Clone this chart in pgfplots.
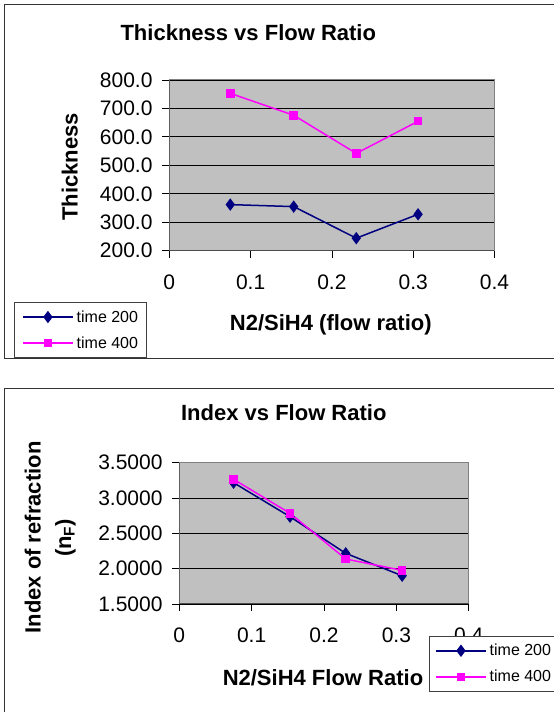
\documentclass[border=0pt]{standalone}
\usepackage{fontspec}
\setmainfont{Liberation Sans}
\usepackage{pgfplots}
\pgfplotsset{compat=1.18}
\definecolor{navyc}{RGB}{0,0,128}
\definecolor{magc}{RGB}{255,0,255}
\definecolor{plotbg}{RGB}{192,192,192}
\definecolor{frameg}{RGB}{128,128,128}
\pgfplotsset{
  excelstyle/.style={
    scale only axis,
    axis background/.style={fill=plotbg},
    axis line style={draw=frameg, line width=1pt},
    ymajorgrids, grid style={black, line width=0.8pt},
    tick pos=left, tick align=outside, major tick length=7pt,
    tick style={black, line width=0.8pt},
    scaled ticks=false,
    /pgf/number format/assume math mode=true,
    ticklabel style={font=\fontsize{21}{21}\selectfont, inner sep=0pt},
    xticklabel style={anchor=north, yshift=-17pt},
    yticklabel style={anchor=east, xshift=-9.6pt},
    xtick={0,0.1,0.2,0.3,0.4},
    xmin=0, xmax=0.4,
    xticklabel={\pgfmathprintnumber[fixed,precision=1]{\tick}},
    legend image code/.code={\draw[mark repeat=2, mark phase=2] plot coordinates {(0pt,0pt) (25pt,0pt) (50pt,0pt)};},
    legend cell align=left,
    legend style={draw=black!75, fill=white, anchor=north west,
      font=\fontsize{16}{16}\selectfont, inner ysep=8pt, row sep=13pt,
      nodes={inner sep=0pt},
      /tikz/every odd column/.style={column sep=3pt}},
  },
  s200/.style={color=navyc, line width=1.5pt, mark=diamond*, mark size=5pt, mark options={solid, fill=navyc}},
  s400/.style={color=magc, line width=1.5pt, mark=square*, mark size=3.5pt, mark options={solid, fill=magc}},
}
\begin{document}
\begin{tikzpicture}
\useasboundingbox (0pt,0pt) rectangle (554pt,712pt);
\fill[white] (0pt,0pt) rectangle (554pt,712pt);
% chart frames
\draw[black!80, line width=1.3pt] (600pt,353.7pt) -- (4.7pt,353.7pt) -- (4.7pt,707.3pt) -- (600pt,707.3pt);
\draw[black!80, line width=1.3pt] (600pt,323.7pt) -- (4.7pt,323.7pt) -- (4.7pt,-20pt);

% ---------- top chart ----------
\begin{axis}[excelstyle,
  at={(169.3pt,461.3pt)}, anchor=south west,
  width=325.2pt, height=170.7pt,
  ymin=200, ymax=800, ytick={200,300,400,500,600,700,800},
  yticklabel={\pgfmathprintnumber[fixed,fixed zerofill,precision=1]{\tick}},
  legend style={at={(-0.4776,-0.3023)}, inner xsep=8pt},
]
\addplot[s200] coordinates {(0.075,362) (0.153,355) (0.230,244) (0.306,328)};
\addlegendentry{time 200}
\addplot[s400] coordinates {(0.075,753) (0.153,676) (0.230,542) (0.306,655)};
\addlegendentry{time 400}
\draw[black!70, line width=1pt] (rel axis cs:0,1) -- (rel axis cs:0,0) -- (rel axis cs:1,0);
\end{axis}
\node[anchor=base, font=\bfseries\fontsize{22}{22}\selectfont] at (248.3pt,671.3pt) {Thickness vs Flow Ratio};
\node[anchor=base, font=\bfseries\fontsize{22}{22}\selectfont] at (330.8pt,381pt) {N2/SiH4 (flow ratio)};
\node[anchor=base, rotate=90, font=\bfseries\fontsize{22}{22}\selectfont] at (77.7pt,545.3pt) {Thickness};

% ---------- bottom chart ----------
\begin{axis}[excelstyle,
  at={(179.3pt,108pt)}, anchor=south west,
  width=289.4pt, height=141.3pt,
  ymin=1.5, ymax=3.5, ytick={1.5,2,2.5,3,3.5},
  yticklabel={\pgfmathprintnumber[fixed,fixed zerofill,precision=4]{\tick}},
  legend style={at={(0.8628,-0.2265)}, inner xsep=6pt},
]
\addplot[s200] coordinates {(0.075,3.217) (0.153,2.736) (0.230,2.217) (0.308,1.900)};
\addlegendentry{time 200}
\addplot[s400] coordinates {(0.075,3.265) (0.153,2.784) (0.230,2.137) (0.308,1.976)};
\addlegendentry{time 400}
\draw[black!70, line width=1pt] (rel axis cs:0,1) -- (rel axis cs:0,0) -- (rel axis cs:1,0);
\end{axis}
\node[anchor=base, font=\bfseries\fontsize{22}{22}\selectfont] at (283.8pt,291.3pt) {Index vs Flow Ratio};
\node[anchor=base, font=\bfseries\fontsize{22}{22}\selectfont] at (323pt,27pt) {N2/SiH4 Flow Ratio};
\node[anchor=base, rotate=90, font=\bfseries\fontsize{22}{22}\selectfont] at (40.6pt,174.5pt) {Index of refraction};
\node[anchor=center, rotate=90, font=\bfseries\fontsize{22}{22}\selectfont] at (65.4pt,174pt) {(n\textsubscript{F})};
\end{tikzpicture}
\end{document}
